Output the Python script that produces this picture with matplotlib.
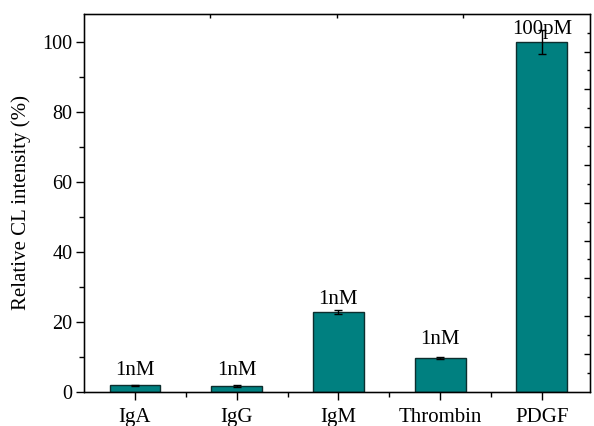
import matplotlib
matplotlib.use("Agg")
import matplotlib.pyplot as plt
from matplotlib.ticker import MultipleLocator, FixedLocator, NullFormatter

categories = ["IgA", "IgG", "IgM", "Thrombin", "PDGF"]
values = [1.8, 1.6, 22.7, 9.7, 100.0]
errors = [0.2, 0.2, 0.6, 0.3, 3.4]
conc_labels = ["1nM", "1nM", "1nM", "1nM", "100pM"]
label_offsets = [4.0, 4.5, 2.2, 6.3, 1.9]  # points above bar top

plt.rcParams['font.family'] = ['Liberation Serif', 'DejaVu Serif']
plt.rcParams['font.size'] = 15

fig = plt.figure(figsize=(5.94, 4.26), dpi=100)
ax = fig.add_axes([0.1406, 0.0805, 0.9933 - 0.1406, 0.9678 - 0.0805])

x = list(range(len(categories)))
ax.bar(x, values, width=0.5, color="#008080", edgecolor="#0d2e2e", linewidth=1.0, zorder=2)
ax.errorbar(x, values, yerr=errors, fmt="none", ecolor="black", elinewidth=1.0,
            capsize=3.2, capthick=1.0, zorder=3)
for xi, v, lab, off in zip(x, values, conc_labels, label_offsets):
    ax.annotate(lab, (xi, v), xytext=(0, off), textcoords="offset points",
                ha="center", va="bottom", fontsize=15, zorder=4)

ax.set_xlim(-0.506, 4.474)
ax.set_ylim(0, 108)
ax.set_xticks(x)
ax.set_xticklabels(categories)
ax.xaxis.set_minor_locator(FixedLocator([0.5, 1.5, 2.5, 3.5]))
ax.yaxis.set_major_locator(MultipleLocator(20))
ax.yaxis.set_minor_locator(MultipleLocator(10))
ax.set_ylabel("Relative CL intensity (%)", fontsize=15, labelpad=8)
ax.tick_params(axis="x", which="major", direction="out", length=6, width=1.0, labelsize=15, pad=6)
ax.tick_params(axis="y", which="major", direction="out", length=6, width=1.0, labelsize=14.5, pad=2)
ax.tick_params(axis="both", which="minor", direction="out", length=3.5, width=1.0)
for s in ax.spines.values():
    s.set_linewidth(1.0)

# right axis ticks
axr = ax.twinx()
axr.set_ylim(0, 1)
axr.yaxis.set_major_locator(FixedLocator([0.1 * i for i in range(1, 10)]))
axr.yaxis.set_minor_locator(FixedLocator([0.05 + 0.1 * i for i in range(10)]))
axr.yaxis.set_major_formatter(NullFormatter())
axr.tick_params(axis="y", which="major", direction="in", length=4, width=1.0)
axr.tick_params(axis="y", which="minor", direction="in", length=2.5, width=1.0)

# top axis ticks
axt = ax.twiny()
axt.set_xlim(0, 1)
axt.xaxis.set_major_locator(FixedLocator([0.25, 0.5, 0.75]))
axt.xaxis.set_major_formatter(NullFormatter())
axt.tick_params(axis="x", which="major", direction="in", length=3, width=1.0)

fig.savefig("out.png", dpi=100)
